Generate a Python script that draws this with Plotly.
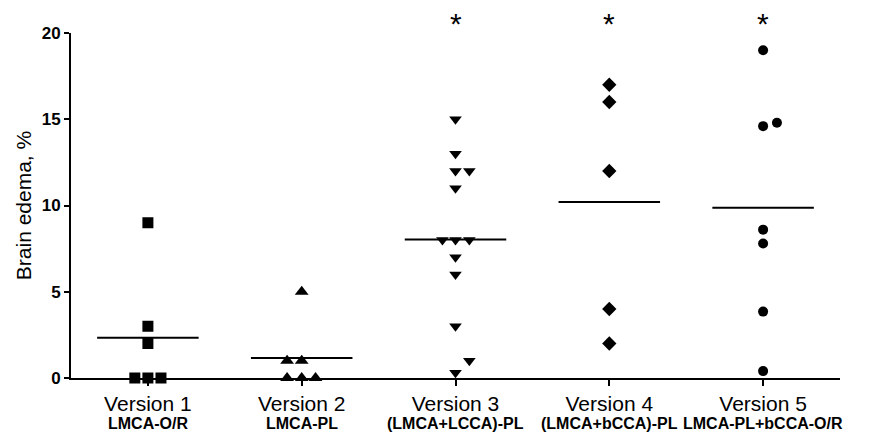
import plotly.graph_objects as go

versions = ["Version 1", "Version 2", "Version 3", "Version 4", "Version 5"]
models = ["LMCA-O/R", "LMCA-PL", "(LMCA+LCCA)-PL", "(LMCA+bCCA)-PL", "LMCA-PL+bCCA-O/R"]

v1 = [9, 3, 2, 0, 0, 0]
v2 = [5, 1, 1, 0, 0, 0]
v3 = [15, 13, 12, 12, 11, 8, 8, 8, 7, 6, 3, 1, 0.3]
v4 = [17, 16, 12, 4, 2]
v5 = [19, 14.6, 14.8, 8.6, 7.8, 3.85, 0.4]
groups = [v1, v2, v3, v4, v5]
significant = [False, False, True, True, True]

# horizontal jitter (layout) for overlapping points, category units
offsets = [
    [0, 0, 0, -0.085, 0, 0.085],
    [0, -0.095, 0, -0.095, 0, 0.09],
    [0, 0, 0, 0.09, 0, -0.085, 0, 0.09, 0, 0, 0, 0.09, 0],
    [0, 0, 0, 0, 0],
    [0, 0, 0.09, 0, 0, 0, 0],
]
symbols = ["square", "triangle-up", "triangle-down", "diamond", "circle"]
sizes = [11, 12, 11, 11, 10]

fig = go.Figure()
for i, (vals, offs) in enumerate(zip(groups, offsets)):
    fig.add_trace(go.Scatter(
        x=[i + o for o in offs], y=vals, mode="markers",
        marker=dict(symbol=symbols[i], size=sizes[i], color="black", line=dict(width=0)),
        cliponaxis=False, showlegend=False, hoverinfo="y"))
    m = sum(vals) / len(vals)
    fig.add_trace(go.Scatter(
        x=[i - 0.33, i + 0.33], y=[m, m], mode="lines",
        line=dict(color="black", width=2), showlegend=False, hoverinfo="skip"))

for i, s in enumerate(significant):
    if s:
        fig.add_annotation(x=i, xref="x", y=1, yref="paper", text="*", showarrow=False,
                           font=dict(size=30, color="black"), yanchor="middle", yshift=10)

for i, m in enumerate(models):
    fig.add_annotation(x=i, xref="x", y=0, yref="paper", text=f"<b>{m}</b>", showarrow=False,
                       font=dict(size=16, color="black"), yanchor="middle", yshift=-45)

fig.update_layout(
    width=871, height=435,
    margin=dict(l=71, r=31, t=33, b=57),
    plot_bgcolor="white", paper_bgcolor="white",
    font=dict(family="Liberation Sans, Arial", color="black"),
    xaxis=dict(range=[-0.5, 4.5], tickvals=list(range(5)), ticktext=versions,
               automargin=False,
               showgrid=False, zeroline=False, showline=True, linecolor="black", linewidth=2,
               ticks="outside", ticklen=6, tickwidth=2, tickcolor="black",
               tickfont=dict(size=21)),
    yaxis=dict(range=[0, 20], tickvals=[0, 5, 10, 15, 20],
               ticktext=["<b>0</b>", "<b>5</b>", "<b>10</b>", "<b>15</b>", "<b>20</b>"],
               automargin=False,
               showgrid=False, zeroline=False, showline=True, linecolor="black", linewidth=2,
               ticks="outside", ticklen=5, tickwidth=2, tickcolor="black",
               tickfont=dict(size=17),
               title=dict(text="Brain edema, %", font=dict(size=21), standoff=4)),
)

fig.write_html("out.html", config={"displayModeBar": False},
               post_script="document.body.style.margin='0';document.body.style.overflow='hidden';")
